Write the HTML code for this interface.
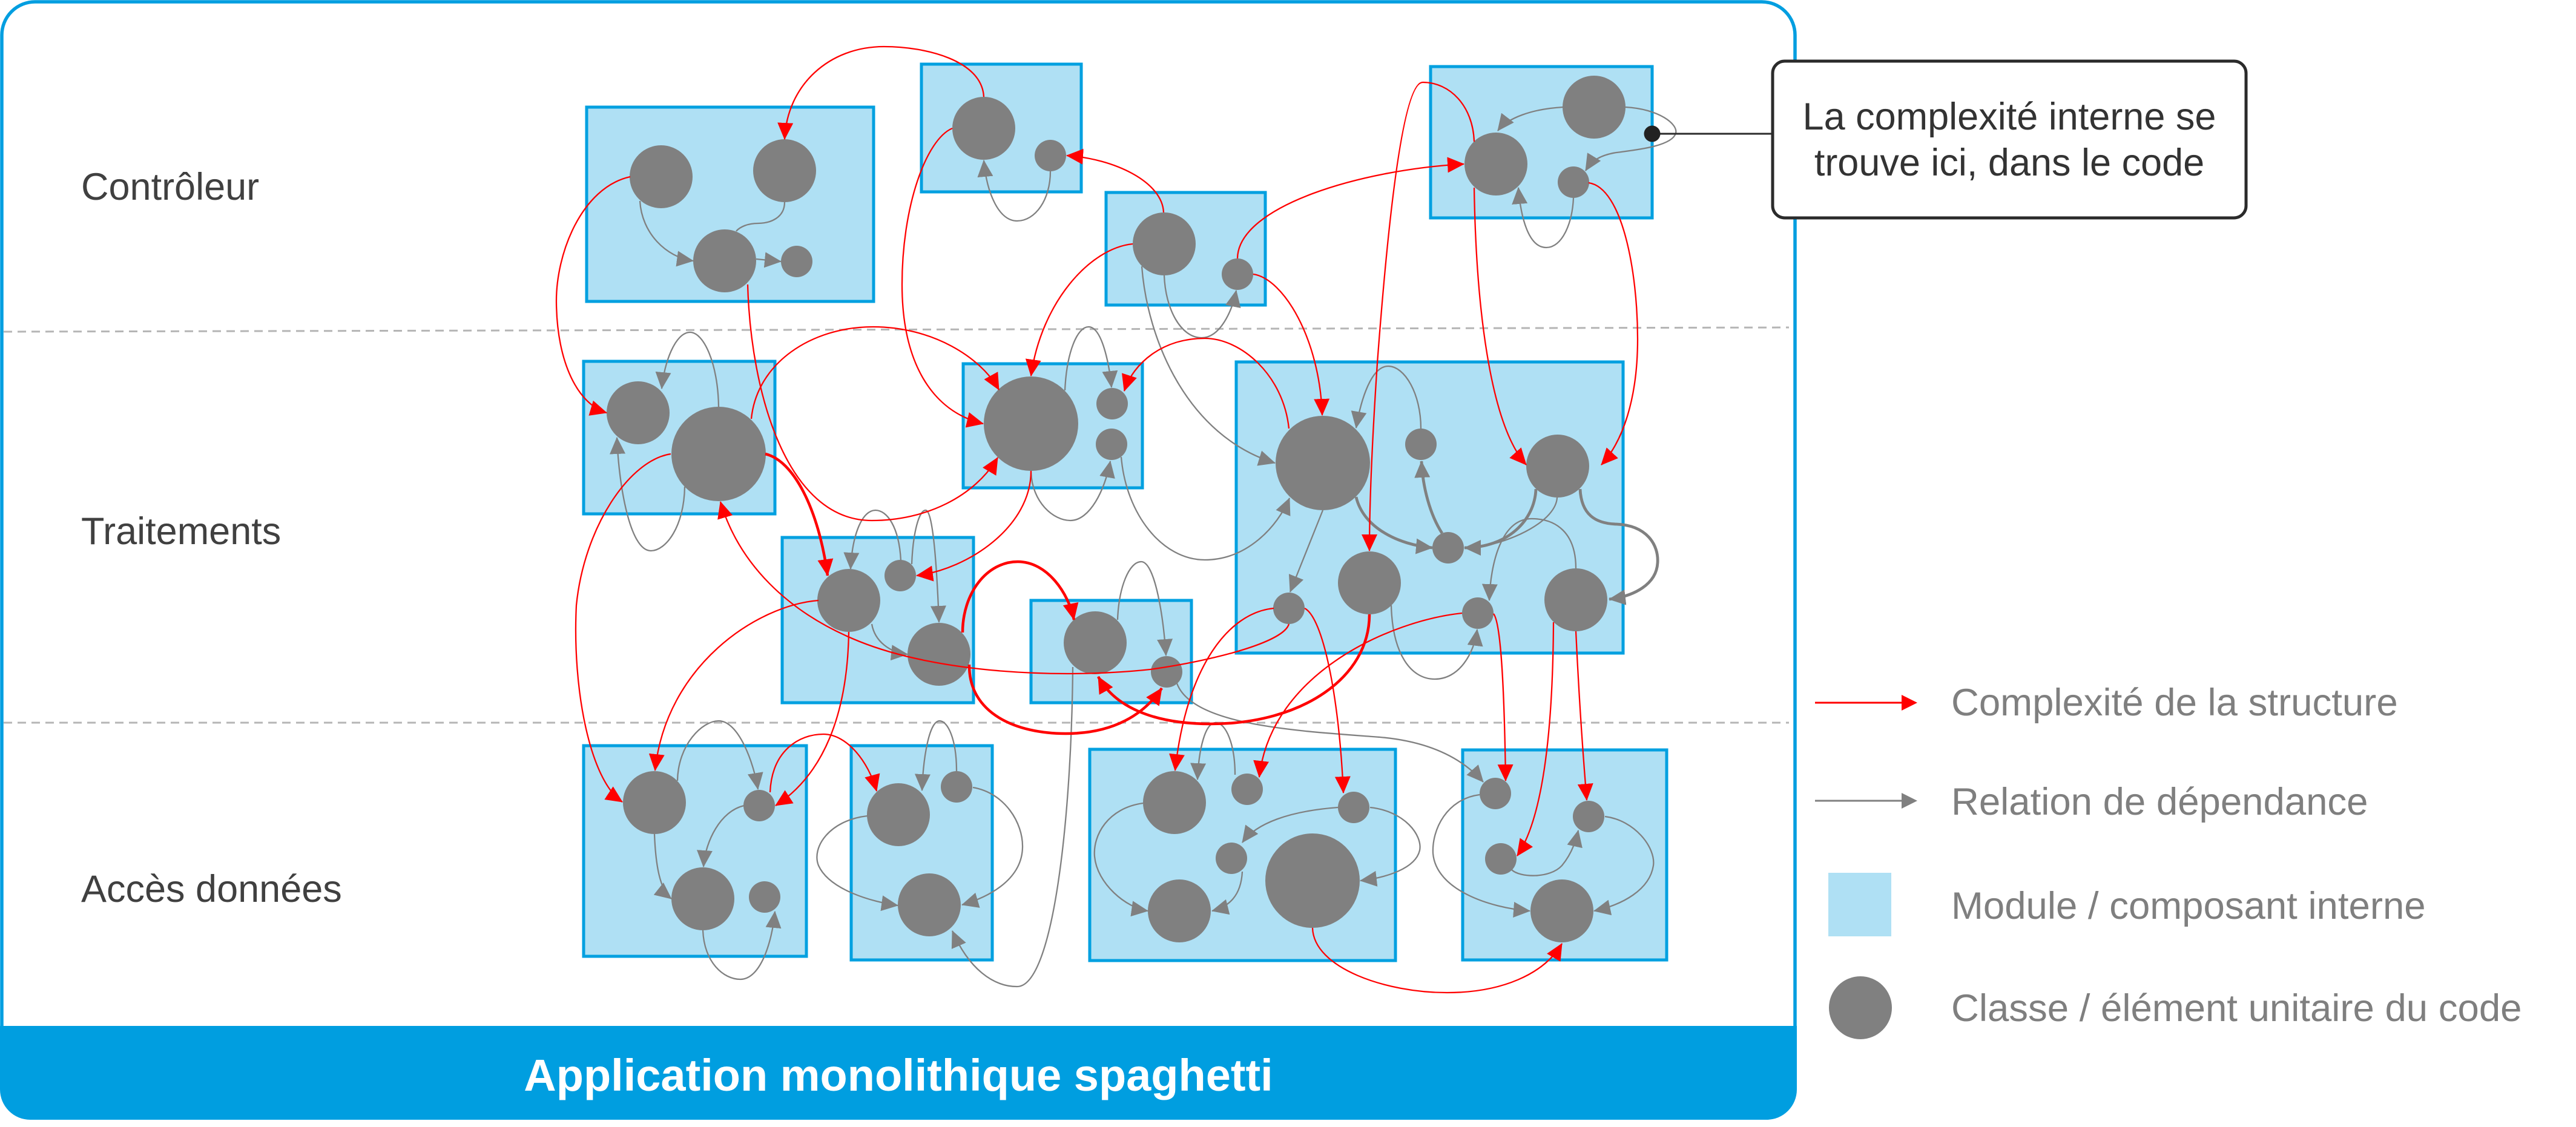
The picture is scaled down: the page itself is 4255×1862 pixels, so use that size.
<!DOCTYPE html>
<html>
<head>
<meta charset="utf-8">
<style>
  html,body{margin:0;padding:0;background:#fff;}
  body{width:4255px;height:1862px;overflow:hidden;}
  svg{display:block;}
  .r{fill:none;stroke:#ff0000;stroke-width:2.3;}
  .rt{fill:none;stroke:#ff0000;stroke-width:4.5;}
  .g{fill:none;stroke:#808080;stroke-width:2.3;}
  .gt{fill:none;stroke:#808080;stroke-width:4.8;}
  .m{fill:#afe0f4;stroke:#00a0e0;stroke-width:5;}
  .c{fill:#808080;}
  .lbl{font-family:"Liberation Sans",Arial,sans-serif;font-size:63px;fill:#404040;}
  .leg{font-family:"Liberation Sans",Arial,sans-serif;font-size:63.5px;fill:#7f7f7f;}
  .call{font-family:"Liberation Sans",Arial,sans-serif;font-size:63px;fill:#333333;}
  .bar{font-family:"Liberation Sans",Arial,sans-serif;font-size:74px;font-weight:bold;fill:#ffffff;}
</style>
</head>
<body>
<svg width="4255" height="1862" viewBox="0 0 4255 1862" xmlns="http://www.w3.org/2000/svg">
  <defs>
    <marker id="mr" markerUnits="userSpaceOnUse" markerWidth="28" markerHeight="26" refX="27" refY="13" orient="auto" viewBox="0 0 28 26">
      <path d="M0,0 L28,13 L0,26 z" fill="#ff0000"/>
    </marker>
    <marker id="mg" markerUnits="userSpaceOnUse" markerWidth="28" markerHeight="26" refX="27" refY="13" orient="auto" viewBox="0 0 28 26">
      <path d="M0,0 L28,13 L0,26 z" fill="#808080"/>
    </marker>
  </defs>

  <!-- Frame -->
  <rect x="3" y="3" width="2962" height="1840" rx="55" ry="55" fill="#ffffff" stroke="#009ee0" stroke-width="5.5"/>
  <path d="M0,1695 H2968 V1800 A50,50 0 0 1 2918,1850 H50 A50,50 0 0 1 0,1800 Z" fill="#009ee0"/>
  <text class="bar" x="1484" y="1802" text-anchor="middle">Application monolithique spaghetti</text>

  <!-- Dashed layer separators -->
  <line x1="6" y1="548" x2="2955" y2="541" stroke="#b5b5b5" stroke-width="3" stroke-dasharray="14 9"/>
  <line x1="6" y1="1194" x2="2955" y2="1194" stroke="#b5b5b5" stroke-width="3" stroke-dasharray="14 9"/>

  <!-- Layer labels -->
  <text class="lbl" x="134" y="330">Contrôleur</text>
  <text class="lbl" x="134" y="899">Traitements</text>
  <text class="lbl" x="134" y="1490">Accès données</text>

  <!-- Modules -->
  <rect class="m" x="969" y="177" width="474" height="321"/>
  <rect class="m" x="1522" y="106" width="264" height="211"/>
  <rect class="m" x="1827" y="318" width="263" height="186"/>
  <rect class="m" x="2363" y="110" width="366" height="250"/>
  <rect class="m" x="964" y="597" width="316" height="252"/>
  <rect class="m" x="1591" y="601" width="296" height="205"/>
  <rect class="m" x="1292" y="888" width="316" height="273"/>
  <rect class="m" x="1703" y="992" width="265" height="169"/>
  <rect class="m" x="2042" y="598" width="639" height="481"/>
  <rect class="m" x="964" y="1232" width="368" height="348"/>
  <rect class="m" x="1406" y="1232" width="233" height="354"/>
  <rect class="m" x="1800" y="1238" width="505" height="349"/>
  <rect class="m" x="2416" y="1239" width="337" height="347"/>

  <!-- Circles -->
  <g class="c">
    <circle cx="1092" cy="292" r="52"/><circle cx="1296" cy="282" r="52"/><circle cx="1197" cy="431" r="52"/><circle cx="1316" cy="432" r="26"/>
    <circle cx="1625" cy="212" r="52"/><circle cx="1735" cy="257" r="26"/>
    <circle cx="1923" cy="403" r="52"/><circle cx="2044" cy="453" r="26"/>
    <circle cx="2633" cy="177" r="52"/><circle cx="2471" cy="271" r="52"/><circle cx="2599" cy="301" r="26"/>
    <circle cx="1054" cy="682" r="52"/><circle cx="1187" cy="750" r="78"/>
    <circle cx="1703" cy="700" r="78"/><circle cx="1837" cy="667" r="26"/><circle cx="1836" cy="734" r="26"/>
    <circle cx="1402" cy="992" r="52"/><circle cx="1487" cy="951" r="26"/><circle cx="1551" cy="1081" r="52"/>
    <circle cx="1809" cy="1062" r="52"/><circle cx="1927" cy="1110" r="26"/>
    <circle cx="2185" cy="765" r="78"/><circle cx="2347" cy="734" r="26"/><circle cx="2573" cy="770" r="52"/><circle cx="2392" cy="905" r="26"/>
    <circle cx="2262" cy="963" r="52"/><circle cx="2129" cy="1005" r="26"/><circle cx="2441" cy="1013" r="26"/><circle cx="2603" cy="991" r="52"/>
    <circle cx="1081" cy="1326" r="52"/><circle cx="1254" cy="1331" r="26"/><circle cx="1161" cy="1485" r="52"/><circle cx="1263" cy="1482" r="26"/>
    <circle cx="1484" cy="1346" r="52"/><circle cx="1580" cy="1300" r="26"/><circle cx="1535" cy="1495" r="52"/>
    <circle cx="1940" cy="1326" r="52"/><circle cx="2060" cy="1304" r="26"/><circle cx="2236" cy="1334" r="26"/><circle cx="2034" cy="1418" r="26"/><circle cx="1948" cy="1505" r="52"/><circle cx="2168" cy="1455" r="78"/>
    <circle cx="2470" cy="1311" r="26"/><circle cx="2624" cy="1349" r="26"/><circle cx="2479" cy="1419" r="26"/><circle cx="2580" cy="1505" r="52"/>
  </g>

  <!-- Gray dependency connectors -->
  <g marker-end="url(#mg)">
    <path class="g" d="M1057,332 C1060,385 1100,425 1145,431"/>
    <path class="g" d="M1249,428 L1290,432"/>
    <path class="g" d="M1735,283 C1735,330 1710,365 1680,365 C1650,365 1630,320 1625,265"/>
    <path class="g" d="M1923,455 C1925,510 1950,558 1985,558 C2015,558 2035,515 2042,480"/>
    <path class="g" d="M1886,440 C1895,560 1960,720 2106,765"/>
    <path class="g" d="M2582,177 C2530,180 2490,195 2474,216"/>
    <path class="g" d="M2685,177 C2740,180 2772,205 2768,220 C2762,242 2700,248 2670,252 C2645,256 2630,264 2619,282"/>
    <path class="g" d="M2599,327 C2597,370 2580,409 2554,409 C2525,409 2512,360 2508,310"/>
    <path class="g" d="M1187,672 C1186,600 1162,549 1140,549 C1115,549 1097,600 1093,642"/>
    <path class="g" d="M1131,804 C1130,870 1100,910 1075,910 C1040,910 1022,800 1019,723"/>
    <path class="g" d="M1759,645 C1762,580 1780,540 1798,540 C1820,540 1832,600 1836,640"/>
    <path class="g" d="M1703,780 C1705,830 1740,860 1768,860 C1800,860 1825,810 1834,762"/>
    <path class="g" d="M1852,755 C1860,850 1920,925 1990,925 C2060,925 2110,870 2130,823"/>
    <path class="g" d="M1488,926 C1485,870 1465,843 1446,843 C1425,843 1408,880 1405,940"/>
    <path class="g" d="M1506,932 C1508,880 1518,843 1529,843 C1542,843 1548,950 1551,1028"/>
    <path class="g" d="M1440,1031 C1445,1060 1470,1078 1499,1081"/>
    <path class="g" d="M1846,1024 C1848,970 1865,928 1885,928 C1905,928 1920,1000 1926,1083"/>
    <path class="g" d="M1772,1102 C1770,1350 1740,1630 1680,1630 C1640,1630 1600,1600 1573,1538"/>
    <path class="g" d="M1944,1129 C1970,1200 2150,1208 2280,1218 C2370,1226 2420,1258 2450,1292"/>
    <path class="g" d="M2347,708 C2347,650 2320,605 2293,605 C2265,605 2248,660 2240,707"/>
    <path class="g" d="M2185,843 L2131,978"/>
    <path class="gt" d="M2240,821 C2252,872 2310,900 2366,905"/>
    <path class="gt" d="M2382,881 C2362,850 2350,805 2348,762"/>
    <path class="gt" d="M2537,808 C2535,860 2490,905 2419,905"/>
    <path class="gt" d="M2610,808 C2612,850 2635,865 2670,866 C2720,868 2740,900 2738,930 C2736,965 2700,985 2658,990"/>
    <path class="g" d="M2603,939 C2603,880 2570,857 2530,857 C2480,857 2462,930 2460,992"/>
    <path class="g" d="M2298,1000 C2300,1080 2330,1122 2370,1122 C2410,1122 2435,1080 2440,1040"/>
    <path class="g" d="M1119,1290 C1120,1230 1160,1191 1187,1191 C1220,1191 1245,1260 1252,1304"/>
    <path class="g" d="M1081,1378 C1083,1430 1090,1470 1109,1485"/>
    <path class="g" d="M1229,1331 C1190,1340 1165,1390 1162,1432"/>
    <path class="g" d="M1161,1537 C1163,1590 1195,1618 1223,1618 C1255,1618 1275,1560 1280,1506"/>
    <path class="g" d="M1580,1274 C1580,1220 1565,1191 1552,1191 C1535,1191 1525,1250 1523,1306"/>
    <path class="g" d="M1433,1348 C1370,1355 1340,1400 1352,1430 C1370,1470 1440,1490 1483,1496"/>
    <path class="g" d="M1607,1301 C1660,1310 1690,1360 1689,1400 C1688,1450 1640,1480 1589,1495"/>
    <path class="g" d="M2040,1280 C2040,1230 2025,1194 2008,1194 C1990,1194 1980,1240 1978,1288"/>
    <path class="g" d="M1888,1327 C1830,1335 1805,1380 1808,1415 C1812,1460 1860,1500 1896,1505"/>
    <path class="g" d="M2210,1334 C2130,1340 2075,1360 2052,1392"/>
    <path class="g" d="M2263,1334 C2320,1340 2350,1380 2345,1405 C2338,1435 2290,1450 2247,1455"/>
    <path class="g" d="M2052,1440 C2050,1480 2030,1498 2002,1505"/>
    <path class="g" d="M2444,1313 C2390,1320 2365,1370 2367,1410 C2372,1470 2460,1500 2527,1505"/>
    <path class="g" d="M2497,1437 C2510,1450 2560,1452 2580,1430 C2595,1412 2603,1390 2607,1372"/>
    <path class="g" d="M2651,1349 C2700,1355 2735,1400 2731,1430 C2725,1470 2680,1495 2633,1505"/>
  </g>
  <path class="g" d="M1296,334 C1296,360 1272,369 1252,369 C1235,369 1222,375 1216,382"/>
  <path class="g" d="M2572,822 C2570,860 2500,895 2440,904"/>

  <!-- Red structural complexity connectors -->
  <g marker-end="url(#mr)">
    <path class="r" d="M1625,160 C1622,100 1530,77 1460,77 C1370,77 1300,140 1296,230"/>
    <path class="r" d="M1041,292 C960,310 918,420 919,500 C920,600 955,668 1002,682"/>
    <path class="r" d="M1235,470 C1240,650 1300,860 1440,860 C1530,860 1610,820 1648,756"/>
    <path class="r" d="M1241,692 C1250,600 1340,540 1442,540 C1540,540 1620,590 1650,644"/>
    <path class="r" d="M1573,212 C1530,230 1490,340 1490,470 C1490,600 1540,680 1624,700"/>
    <path class="r" d="M1922,351 C1920,300 1840,262 1762,257"/>
    <path class="r" d="M1871,403 C1800,410 1720,500 1703,621"/>
    <path class="r" d="M2070,453 C2120,460 2180,560 2184,686"/>
    <path class="r" d="M2044,427 C2045,340 2250,280 2418,271"/>
    <path class="r" d="M2435,234 C2433,175 2395,136 2350,136 C2315,136 2290,400 2275,600 C2265,750 2262,850 2262,910"/>
    <path class="r" d="M2435,310 C2438,500 2460,700 2521,768"/>
    <path class="r" d="M2624,302 C2680,310 2705,450 2705,560 C2705,660 2680,730 2645,768"/>
    <path class="r" d="M2129,708 C2120,620 2050,559 1990,559 C1920,559 1872,600 1857,646"/>
    <path class="r" d="M1108,750 C1040,760 965,870 952,1000 C945,1140 975,1290 1028,1325"/>
    <path class="rt" d="M1264,750 C1310,760 1352,840 1367,951"/>
    <path class="r" d="M1703,778 C1703,870 1600,940 1514,951"/>
    <path class="r" d="M2129,1031 C2120,1062 2000,1092 1900,1106 C1750,1122 1550,1112 1420,1060 C1300,1012 1220,930 1190,829"/>
    <path class="r" d="M1352,992 C1250,1000 1100,1100 1082,1273"/>
    <path class="r" d="M1402,1044 C1400,1180 1360,1280 1281,1331"/>
    <path class="r" d="M1272,1309 C1275,1240 1320,1213 1360,1213 C1400,1213 1435,1260 1448,1307"/>
    <path class="rt" d="M1590,1045 C1590,980 1630,928 1681,928 C1730,928 1765,980 1774,1024"/>
    <path class="rt" d="M1601,1098 C1600,1180 1680,1212 1760,1212 C1840,1212 1890,1180 1919,1137"/>
    <path class="rt" d="M2262,1015 C2262,1120 2150,1196 2000,1196 C1900,1196 1840,1165 1814,1118"/>
    <path class="r" d="M2104,1005 C2030,1012 1960,1100 1941,1273"/>
    <path class="r" d="M2155,1005 C2185,1020 2212,1150 2219,1310"/>
    <path class="r" d="M2415,1013 C2300,1025 2100,1110 2080,1284"/>
    <path class="r" d="M2467,1014 C2480,1030 2485,1150 2487,1290"/>
    <path class="r" d="M2566,1028 C2565,1200 2550,1350 2506,1414"/>
    <path class="r" d="M2603,1043 C2608,1150 2615,1250 2621,1322"/>
    <path class="r" d="M2168,1533 C2170,1600 2290,1640 2390,1640 C2480,1640 2550,1610 2580,1559"/>
  </g>

  <!-- Callout -->
  <line x1="2729" y1="221" x2="2928" y2="221" stroke="#2b2b2b" stroke-width="3"/>
  <circle cx="2729" cy="221" r="13.5" fill="#222222"/>
  <rect x="2928" y="101" width="782" height="259" rx="20" ry="20" fill="#ffffff" stroke="#2b2b2b" stroke-width="5"/>
  <text class="call" x="3319" y="214" text-anchor="middle">La complexité interne se</text>
  <text class="call" x="3319" y="290" text-anchor="middle">trouve ici, dans le code</text>

  <!-- Legend -->
  <line x1="2998" y1="1161" x2="3143" y2="1161" stroke="#ff0000" stroke-width="3"/>
  <path d="M3141,1148 L3167,1161 L3141,1174 z" fill="#ff0000"/>
  <text class="leg" x="3223" y="1182">Complexité de la structure</text>

  <line x1="2998" y1="1323" x2="3143" y2="1323" stroke="#808080" stroke-width="3"/>
  <path d="M3141,1310 L3167,1323 L3141,1336 z" fill="#808080"/>
  <text class="leg" x="3223" y="1346">Relation de dépendance</text>

  <rect x="3020" y="1442" width="104" height="105" fill="#afe0f4"/>
  <text class="leg" x="3223" y="1518">Module / composant interne</text>

  <circle cx="3073" cy="1665" r="52" fill="#808080"/>
  <text class="leg" x="3223" y="1687">Classe / élément unitaire du code</text>
</svg>
</body>
</html>
